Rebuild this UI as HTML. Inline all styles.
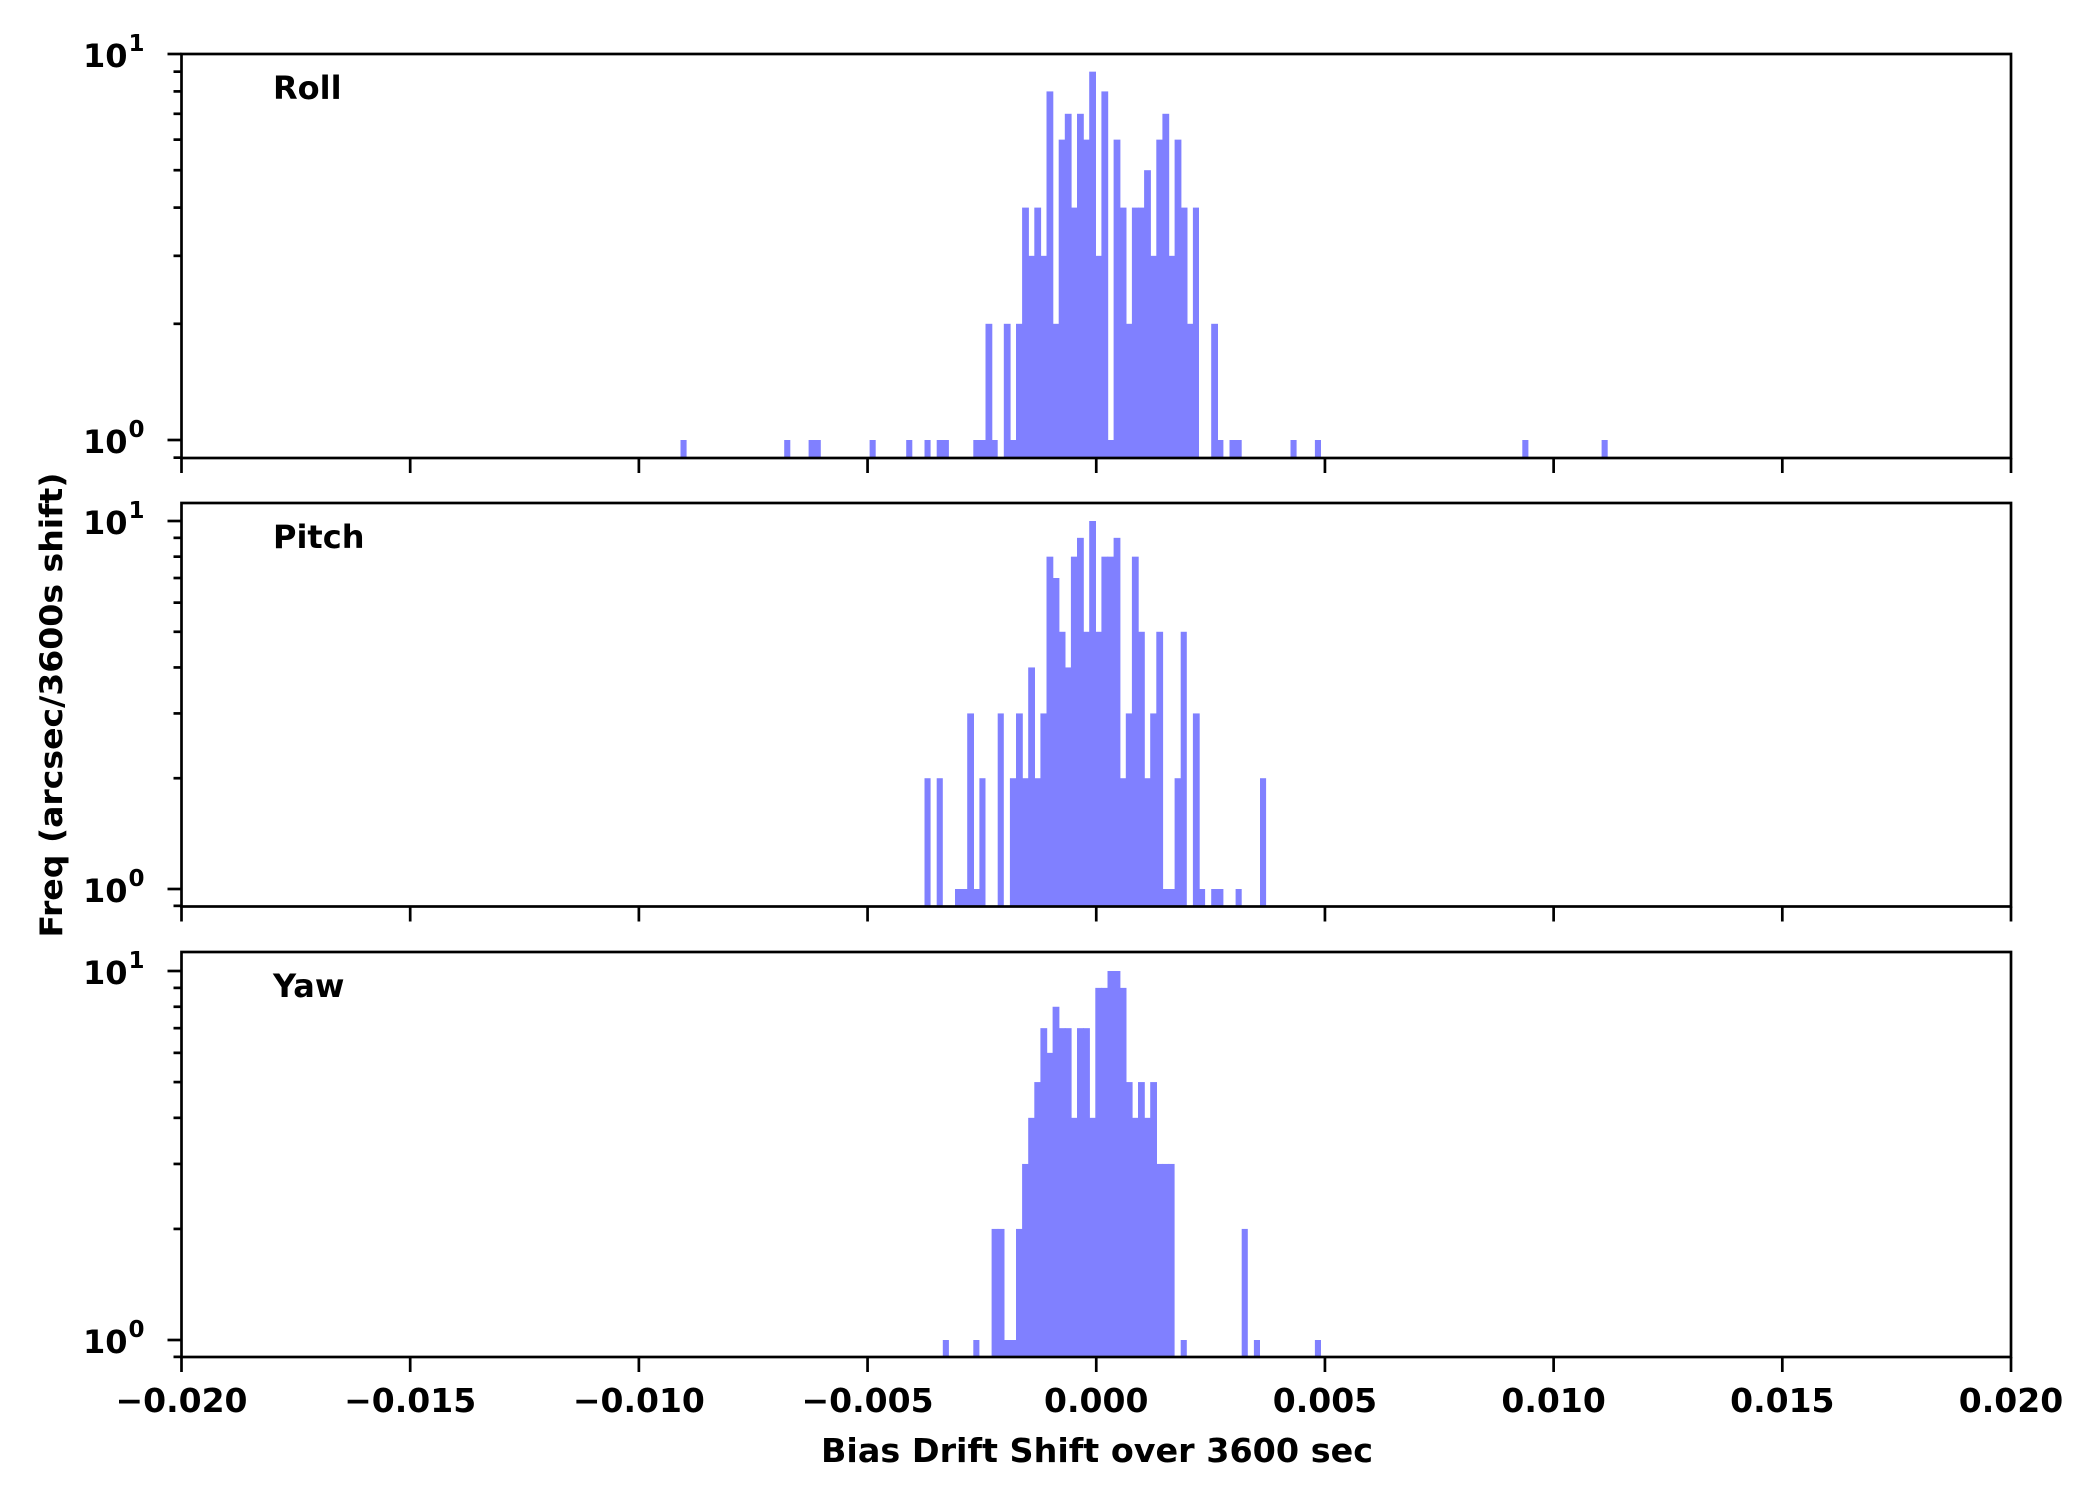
<!DOCTYPE html>
<html><head><meta charset="utf-8"><style>html,body{margin:0;padding:0;background:#fff}svg{display:block}</style></head>
<body>
<svg id="s" xmlns="http://www.w3.org/2000/svg" width="2100" height="1500" viewBox="0 0 2100 1500" font-family="'DejaVu Sans','Liberation Sans',sans-serif" font-weight="bold">
<rect width="2100" height="1500" fill="#fff"/>
<g id="bars" fill="#8080ff"></g>
<g id="axes" stroke="#000" stroke-width="2.7" fill="none"></g>
<g id="txt" fill="#000"></g>
<text x="273" y="99" font-size="32">Roll</text>
<text x="273" y="548" font-size="32">Pitch</text>
<text x="273" y="997" font-size="32">Yaw</text>
<text x="1097" y="1462" font-size="33" text-anchor="middle" textLength="552" lengthAdjust="spacingAndGlyphs">Bias Drift Shift over 3600 sec</text>
<text transform="translate(62,705) rotate(-90)" font-size="31" text-anchor="middle" textLength="465" lengthAdjust="spacingAndGlyphs">Freq (arcsec/3600s shift)</text>
</svg>
<script>
var NS="http://www.w3.org/2000/svg";
var X0=181.5,X1=2011,W=6.1,B0=973.3;
var panels=[
 {top:54,bot:458,one:440,dec:386,d:{}},
 {top:503,bot:906.5,one:889,dec:368,d:{}},
 {top:952,bot:1357,one:1340,dec:369,d:{}}];
function setList(p,start,arr){for(var i=0;i<arr.length;i++)if(arr[i])p.d[start+i]=arr[i];}
var r=panels[0];
setList(r,0,[1,1,2,1,0,2,1,2,4,3,4,3,8,2,6,7,4,7,6,9,3,8,1,6,4,2,4,4,5,3,6,7,3,6,4,2,4,0,0,2,1,0,1,1]);
[-48,-31,-27,-26,-17,-11,-8,-6,-5,52,56,90,103].forEach(function(k){r.d[k]=1;});
var p=panels[1];
setList(p,-8,[2,0,2,0,0,1,1,3,1,2,0,0,3,0,2,3,2,4,2,3,8,7,5,4,8,9,5,10,5,8,8,9,2,3,8,5,2,3,5,1,1,2,5,0,3,1,0,1,1,0,0,1,0,0,0,2]);
var y=panels[2];
setList(y,3,[2,2,1,1,2,3,4,5,7,6,8,7,7,4,7,7,4,9,9,10,10,9,5,4,5,4,5,3,3,3]);
y.d[-5]=1;y.d[0]=1;y.d[34]=1;y.d[44]=2;y.d[46]=1;y.d[56]=1;
var bars=document.getElementById('bars'),axes=document.getElementById('axes'),txt=document.getElementById('txt');
function el(par,tag,a,t){var e=document.createElementNS(NS,tag);for(var k in a)e.setAttribute(k,a[k]);if(t!==undefined)e.textContent=t;par.appendChild(e);return e;}
panels.forEach(function(P,pi){
 for(var k in P.d){var c=P.d[k];var x=B0+k*W;var yy=P.one-Math.log10(c)*P.dec;
  var nx=P.d[+k+1]?0.7:0;
  el(bars,'rect',{x:x.toFixed(2),y:yy.toFixed(2),width:(W+nx).toFixed(2),height:(P.bot-yy).toFixed(2)});}
 el(axes,'rect',{x:X0,y:P.top,width:X1-X0,height:P.bot-P.top});
 for(var i=0;i<=8;i++){var tx=X0+i*(X1-X0)/8;el(axes,'line',{x1:tx,y1:P.bot,x2:tx,y2:P.bot+15});
  if(pi==2){var v=(-0.02+i*0.005);var s=v.toFixed(3);if(v<-1e-9)s='\u2212'+(-v).toFixed(3);
   el(txt,'text',{x:tx,y:1412,'font-size':33,'text-anchor':'middle'},s);}}
 [1,10].forEach(function(v,j){var ty=P.one-j*P.dec;if(ty<P.top-1)return;
  el(axes,'line',{x1:X0-14,y1:ty,x2:X0,y2:ty});
  el(txt,'text',{x:X0-54,y:ty+13,'font-size':32,'text-anchor':'end'},'10');
  el(txt,'text',{x:X0-53,y:ty-3,'font-size':23},String(j));});
 [0.9,2,3,4,5,6,7,8,9].forEach(function(v){var ty=P.one-Math.log10(v)*P.dec;if(ty<P.top-1||ty>P.bot+1)return;
  el(axes,'line',{x1:X0-8,y1:ty,x2:X0,y2:ty});});
});
</script>
</body></html>
